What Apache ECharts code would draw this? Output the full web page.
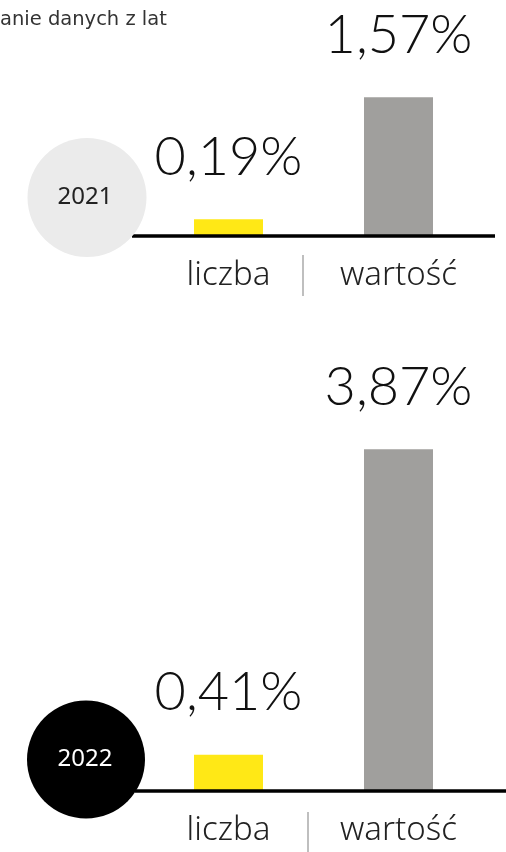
<!DOCTYPE html>
<html>
<head>
<meta charset="utf-8">
<script src="https://cdn.jsdelivr.net/npm/echarts@6/dist/echarts.min.js"></script>
<style>
  html, body { margin: 0; padding: 0; background: #ffffff; }
  #chart { width: 506px; height: 852px; }
</style>
</head>
<body>
<div id="chart"></div>
<script>
// Udział w ogólnej liczbie i wartości (%)
const categories = ['liczba', 'wartość'];
const years = ['2021', '2022'];
const values2021 = [0.19, 1.57];
const values2022 = [0.41, 3.87];
const barColors = ['#ffe816', '#a09f9d'];
const headerText = 'anie danych z lat';

const base0 = 236;           // zero line of the upper panel
const base1 = 791;           // zero line of the lower panel
const pxPerUnit = 88.3;
const max0 = 1.6, max1 = 4.0;

const fmt = v => v.toFixed(2).replace('.', ',') + '%';
const valueFont = { fontFamily: 'Lato', fontWeight: 300, fontSize: 54, color: '#111' };

function barSeries(values, idx) {
  return {
    type: 'bar',
    xAxisIndex: idx,
    yAxisIndex: idx,
    barWidth: 69,
    data: values.map((v, i) => ({ value: v, itemStyle: { color: barColors[i] } })),
    label: {
      show: true,
      position: 'top',
      distance: 35,
      formatter: p => fmt(p.value),
      ...valueFont
    },
    z: 2
  };
}

function xAxis(idx) {
  return {
    type: 'category',
    gridIndex: idx,
    data: categories,
    axisLine: { show: false },
    axisTick: { show: false },
    axisLabel: {
      margin: 23,
      fontFamily: 'Noto Sans',
      fontWeight: 300,
      fontSize: 33,
      color: '#222'
    }
  };
}

function yAxis(idx, max) {
  return { type: 'value', gridIndex: idx, min: 0, max: max, show: false };
}

const chart = echarts.init(document.getElementById('chart'));
chart.setOption({
  animation: false,
  grid: [
    { left: 143.5, width: 340, top: base0 - pxPerUnit * max0, height: pxPerUnit * max0 },
    { left: 143.5, width: 340, top: base1 - pxPerUnit * max1, height: pxPerUnit * max1 }
  ],
  xAxis: [xAxis(0), xAxis(1)],
  yAxis: [yAxis(0, max0), yAxis(1, max1)],
  series: [barSeries(values2021, 0), barSeries(values2022, 1)],
  graphic: [
    { type: 'text', x: 0, y: 20, z: 10,
      style: { text: headerText, fontFamily: 'DejaVu Sans', fontSize: 19.5,
               verticalAlign: 'middle', fill: '#333' } },
    // baselines
    { type: 'line', z: 5, shape: { x1: 132, y1: base0, x2: 495, y2: base0 },
      style: { stroke: '#000', lineWidth: 3.5 } },
    { type: 'line', z: 5, shape: { x1: 135, y1: base1, x2: 506, y2: base1 },
      style: { stroke: '#000', lineWidth: 3.5 } },
    // separators between the two categories
    { type: 'line', z: 5, shape: { x1: 303, y1: 255, x2: 303, y2: 296 },
      style: { stroke: '#aaa', lineWidth: 1.5 } },
    { type: 'line', z: 5, shape: { x1: 308, y1: 812, x2: 308, y2: 852 },
      style: { stroke: '#aaa', lineWidth: 1.5 } },
    // year badges
    { type: 'circle', z: 6, shape: { cx: 87, cy: 197.5, r: 59.5 }, style: { fill: '#ebebeb' } },
    { type: 'text', z: 7, x: 85, y: 197.5,
      style: { text: years[0], align: 'center', verticalAlign: 'middle',
               fontFamily: 'Noto Sans', fontSize: 24, fill: '#222' } },
    { type: 'circle', z: 6, shape: { cx: 86, cy: 759.5, r: 59 }, style: { fill: '#000' } },
    { type: 'text', z: 7, x: 85, y: 759.5,
      style: { text: years[1], align: 'center', verticalAlign: 'middle',
               fontFamily: 'Noto Sans', fontSize: 24, fill: '#fff' } }
  ]
});
</script>
</body>
</html>
